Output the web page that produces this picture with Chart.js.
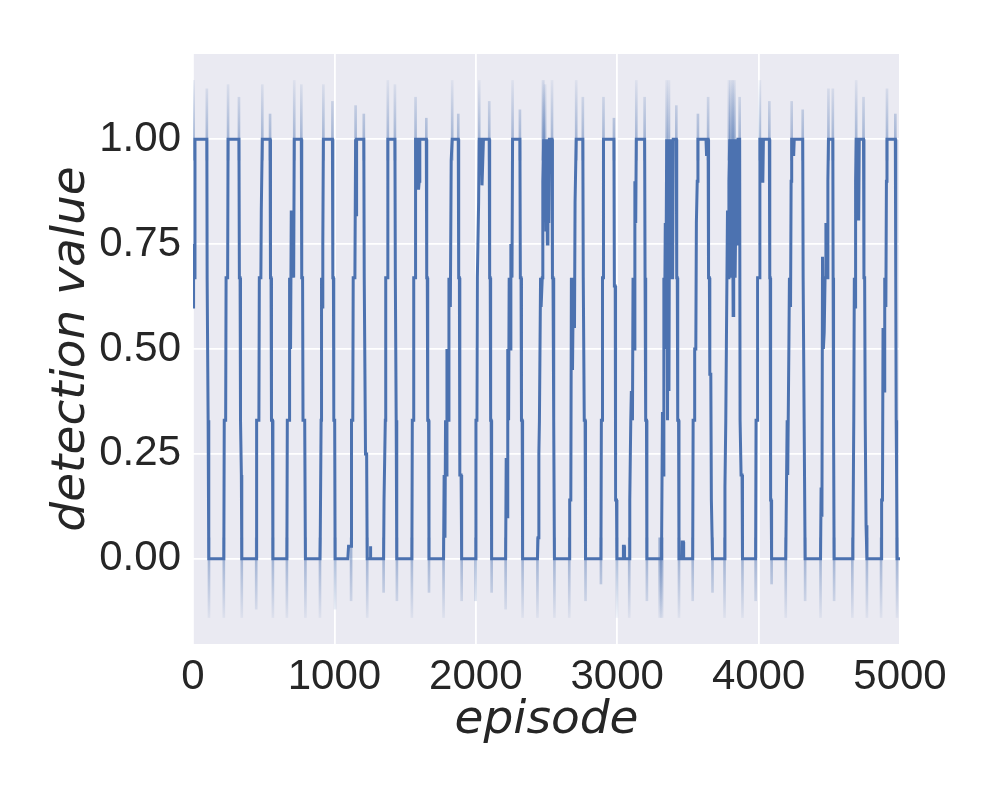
<!DOCTYPE html>
<html>
<head>
<meta charset="utf-8">
<script src="https://cdn.jsdelivr.net/npm/chart.js@4.4.0/dist/chart.umd.min.js"></script>
<style>
  html, body { margin: 0; padding: 0; background: #ffffff; }
</style>
</head>
<body>
<canvas id="grafiek" width="1000" height="800"></canvas>
<script>
// tick labels
const xTicks = [0, 1000, 2000, 3000, 4000, 5000];
const yTicks = [0, 0.25, 0.5, 0.75, 1];

// mean detection value per episode (one row per on/off cycle)
const episodes = [
  0, 4, 8, 14, 98, 100, 104, 107, 110, 113,
  218, 221, 231, 234, 245, 248, 325, 328, 333, 336, 342, 345,
  447, 450, 466, 469, 480, 483, 490, 545, 548, 552, 555, 562, 565,
  664, 667, 680, 683, 690, 695, 700, 703, 712, 716, 766, 769, 775, 778, 790, 795,
  898, 900, 906, 909, 915, 918, 922, 986, 989, 993, 996, 1002, 1005,
  1095, 1100, 1118, 1121, 1130, 1133, 1145, 1150, 1153, 1157, 1208, 1211, 1216, 1220, 1228, 1232, 1252, 1254, 1258,
  1348, 1351, 1360, 1363, 1375, 1378, 1428, 1431, 1434, 1437, 1440, 1442,
  1548, 1551, 1558, 1561, 1571, 1574, 1590, 1595, 1600, 1604, 1650, 1653, 1657, 1660, 1666, 1669,
  1772, 1776, 1782, 1786, 1792, 1796, 1805, 1810, 1820, 1826, 1833, 1876, 1879, 1884, 1887, 1896, 1900,
  1998, 2001, 2008, 2011, 2020, 2024, 2040, 2044, 2050, 2054, 2095, 2098, 2102, 2105, 2109, 2112,
  2211, 2215, 2222, 2226, 2232, 2236, 2244, 2248, 2256, 2260, 2312, 2315, 2320, 2323, 2328, 2331,
  2436, 2440, 2446, 2450, 2458, 2462, 2470, 2474, 2480, 2486, 2490, 2496, 2500, 2506, 2510, 2516, 2520, 2539, 2542, 2546, 2549, 2553, 2556,
  2661, 2664, 2672, 2676, 2684, 2690, 2698, 2702, 2710, 2757, 2760, 2764, 2767, 2773, 2776,
  2885, 2888, 2893, 2896, 2900, 2903, 2977, 2980, 2986, 2989, 2995, 2998, 3042, 3044, 3050, 3052,
  3085, 3089, 3096, 3100, 3108, 3112, 3120, 3125, 3131, 3135, 3194, 3197, 3200, 3203, 3207, 3210,
  3310, 3314, 3320, 3324, 3330, 3334, 3340, 3345, 3350, 3356, 3360, 3366, 3370, 3378, 3382, 3392, 3396, 3418, 3421, 3425, 3428, 3434, 3437, 3458, 3460, 3468, 3470,
  3534, 3537, 3545, 3548, 3556, 3560, 3566, 3571, 3628, 3632, 3636, 3643, 3646, 3652, 3655, 3662, 3666, 3674,
  3759, 3762, 3768, 3772, 3780, 3784, 3790, 3796, 3800, 3804, 3810, 3814, 3820, 3824, 3830, 3834, 3840, 3844, 3850, 3854, 3860, 3866, 3869, 3873, 3876, 3883, 3886,
  3979, 3982, 3990, 3993, 4004, 4009, 4018, 4022, 4030, 4034, 4076, 4079, 4082, 4085, 4089, 4092,
  4192, 4195, 4202, 4206, 4214, 4218, 4226, 4230, 4234, 4245, 4248, 4252, 4312, 4315, 4319, 4322, 4326, 4329,
  4438, 4442, 4448, 4452, 4458, 4464, 4470, 4476, 4484, 4490, 4494, 4525, 4527, 4529, 4531, 4534,
  4663, 4667, 4673, 4677, 4682, 4686, 4690, 4698, 4702, 4708, 4712, 4742, 4745, 4750, 4754, 4760, 4766,
  4866, 4870, 4876, 4880, 4888, 4892, 4900, 4904, 4908, 4967, 4970, 4973, 4976, 4979, 5000
];
const detection = [
  0.6, 0.75, 0.67, 1, 1, 0.67, 0.67, 0.33, 0.33, 0,
  0, 0.33, 0.33, 0.67, 0.67, 1, 1, 0.67, 0.67, 0.33, 0.2, 0,
  0, 0.33, 0.33, 0.67, 0.67, 0.83, 1, 1, 0.67, 0.67, 0.33, 0.33, 0,
  0, 0.33, 0.33, 0.67, 0.5, 0.83, 0.67, 0.75, 0.67, 1, 1, 0.67, 0.67, 0.33, 0.33, 0,
  0, 0.05, 0.33, 0.67, 0.6, 0.75, 1, 1, 0.67, 0.67, 0.33, 0.33, 0,
  0, 0.03, 0.03, 0.33, 0.33, 0.67, 0.67, 1, 0.82, 1, 1, 0.67, 0.67, 0.25, 0.25, 0, 0, 0.03, 0,
  0, 0.14, 0.33, 0.67, 0.67, 1, 1, 0.67, 0.67, 0.33, 0.33, 0,
  0, 0.33, 0.33, 0.67, 0.67, 1, 1, 0.88, 0.9, 1, 1, 0.67, 0.67, 0.33, 0.33, 0,
  0, 0.2, 0.05, 0.33, 0.2, 0.5, 0.33, 0.67, 0.6, 0.95, 1, 1, 0.67, 0.67, 0.2, 0.2, 0,
  0, 0.33, 0.33, 0.67, 0.85, 1, 1, 0.89, 0.89, 1, 1, 0.67, 0.67, 0.33, 0.33, 0,
  0, 0.24, 0.1, 0.5, 0.33, 0.67, 0.5, 0.75, 0.67, 1, 1, 0.67, 0.67, 0.33, 0.33, 0,
  0, 0.05, 0.25, 0.33, 0.67, 0.6, 0.67, 0.9, 1, 0.89, 1, 0.78, 1, 0.75, 0.95, 0.8, 1, 1, 0.67, 0.67, 0.33, 0.33, 0,
  0, 0.14, 0.14, 0.67, 0.45, 0.67, 0.55, 0.85, 1, 1, 0.67, 0.67, 0.33, 0.33, 0,
  0, 0.33, 0.33, 0.67, 0.67, 1, 1, 0.65, 0.65, 0.14, 0.14, 0, 0, 0.03, 0.03, 0,
  0, 0.14, 0.33, 0.4, 0.33, 0.67, 0.5, 0.9, 0.8, 1, 1, 0.67, 0.67, 0.33, 0.33, 0,
  0, 0.03, 0.35, 0.2, 0.67, 0.5, 0.8, 0.67, 1, 0.33, 1, 0.4, 0.9, 1, 0.67, 0.67, 1, 1, 0.67, 0.67, 0.33, 0.33, 0, 0, 0.04, 0.04, 0,
  0, 0.33, 0.33, 0.5, 0.5, 0.8, 0.9, 1, 1, 0.96, 1, 1, 0.67, 0.67, 0.44, 0.44, 0.14, 0,
  0, 0.17, 0.33, 0.5, 0.83, 0.67, 0.9, 1, 0.75, 1, 0.67, 1, 0.58, 0.9, 1, 0.67, 0.67, 1, 0.75, 1, 1, 1, 0.33, 0.33, 0.2, 0.2, 0,
  0, 0.33, 0.33, 0.67, 0.67, 1, 1, 0.9, 0.9, 1, 1, 0.67, 0.67, 0.14, 0.14, 0,
  0, 0.1, 0.33, 0.2, 0.5, 0.67, 0.6, 0.9, 1, 1, 0.96, 1, 1, 0.67, 0.67, 0.33, 0.33, 0,
  0, 0.17, 0.1, 0.72, 0.5, 0.54, 0.67, 0.8, 0.67, 0.9, 1, 1, 0.67, 0.5, 0.33, 0,
  0, 0.03, 0.33, 0.67, 0.6, 0.9, 1, 1, 0.81, 0.81, 1, 1, 0.67, 0.67, 0.33, 0.08, 0,
  0, 0.14, 0.14, 0.55, 0.4, 0.67, 0.6, 0.9, 1, 1, 0.67, 0.33, 0.2, 0, 0
];

// confidence band peaks above 1 (around switch-on / switch-off)
const topSpikeEpisodes = [4, 98, 248, 325, 490, 545, 716, 766, 922, 986, 1150, 1208, 1378, 1428, 1574, 1650,
  1833, 1876, 2024, 2095, 2260, 2312, 2474, 2480, 2490, 2539, 2710, 2757, 2903, 2977, 3135, 3194, 3350, 3366,
  3418, 3571, 3643, 3790, 3800, 3812, 3820, 3830, 3866, 4009, 4076, 4234, 4312, 4494, 4525, 4690, 4742, 4908, 4967];
const topSpikeValues = [1.14, 1.12, 1.13, 1.1, 1.13, 1.06, 1.14, 1.13, 1.13, 1.09, 1.08, 1.06, 1.14, 1.13, 1.1, 1.05,
  1.14, 1.06, 1.14, 1.09, 1.14, 1.07, 1.14, 1.14, 1.13, 1.14, 1.14, 1.1, 1.1, 1.05, 1.14, 1.1, 1.14, 1.14,
  1.08, 1.06, 1.1, 1.14, 1.14, 1.14, 1.14, 1.14, 1.1, 1.14, 1.09, 1.09, 1.07, 1.12, 1.12, 1.14, 1.1, 1.12, 1.06];
// confidence band dips below 0
const bottomSpikeEpisodes = [113, 218, 345, 447, 565, 664, 795, 898, 1005, 1118, 1232, 1348, 1442, 1548, 1669,
  1772, 1900, 1998, 2112, 2211, 2331, 2436, 2556, 2661, 2776, 2885, 2998, 3085, 3210, 3300, 3310, 3318, 3437,
  3534, 3674, 3759, 3886, 3979, 4092, 4192, 4329, 4438, 4534, 4663, 4766, 4866, 4979];
const bottomSpikeValues = [-0.14, -0.14, -0.14, -0.12, -0.14, -0.14, -0.14, -0.14, -0.12, -0.1, -0.14, -0.08, -0.1, -0.14, -0.08,
  -0.14, -0.1, -0.1, -0.08, -0.12, -0.14, -0.14, -0.14, -0.14, -0.1, -0.06, -0.14, -0.14, -0.1, -0.14, -0.14, -0.14, -0.14,
  -0.1, -0.08, -0.14, -0.14, -0.1, -0.06, -0.14, -0.1, -0.14, -0.1, -0.14, -0.14, -0.14, -0.14];

const lineColor = '#4C72B0';
const textColor = '#262626';

// grijsblauwe achtergrond van het plotvlak (seaborn darkgrid)
const plotBackground = {
  id: 'plotBackground',
  beforeDraw(chart) {
    const { ctx, chartArea: a } = chart;
    ctx.save();
    ctx.fillStyle = '#ffffff';
    ctx.fillRect(0, 0, chart.width, chart.height);
    ctx.fillStyle = '#EAEAF2';
    ctx.fillRect(a.left, a.top, a.right - a.left, a.bottom - a.top);
    ctx.restore();
  }
};

// fading spike colour, strongest next to the line
function spikeFill(from, to) {
  return function(c) {
    const chart = c.chart;
    if (!chart.chartArea) return 'rgba(76,114,176,0.25)';
    const y = chart.scales.y;
    const g = chart.ctx.createLinearGradient(0, y.getPixelForValue(from), 0, y.getPixelForValue(to));
    g.addColorStop(0, 'rgba(76,114,176,0.45)');
    g.addColorStop(1, 'rgba(76,114,176,0.08)');
    return g;
  };
}

const tickFont = { family: 'Liberation Sans', size: 42 };
const titleFont = { family: 'DejaVu Sans', style: 'italic', size: 47, lineHeight: 1 };

new Chart(document.getElementById('grafiek').getContext('2d'), {
  type: 'line',
  data: {
    datasets: [
      {
        label: 'detection value',
        data: episodes.map((e, i) => ({ x: e, y: detection[i] })),
        borderColor: lineColor,
        borderWidth: 3,
        pointRadius: 0,
        tension: 0,
        fill: false,
        order: 0
      },
      {
        type: 'bar',
        data: topSpikeEpisodes.map((e, i) => ({ x: e, y: [0.95, topSpikeValues[i]] })),
        backgroundColor: spikeFill(1, 1.14),
        barThickness: 2,
        grouped: false,
        order: 1
      },
      {
        type: 'bar',
        data: bottomSpikeEpisodes.map((e, i) => ({ x: e, y: [bottomSpikeValues[i], 0.05] })),
        backgroundColor: spikeFill(0, -0.14),
        barThickness: 2,
        grouped: false,
        order: 1
      }
    ]
  },
  options: {
    responsive: false,
    animation: false,
    devicePixelRatio: 1,
    layout: { padding: { left: 0, right: 100, top: 54, bottom: 0 } },
    plugins: { legend: { display: false }, tooltip: { enabled: false } },
    scales: {
      x: {
        type: 'linear',
        min: 0,
        max: 5000,
        offset: false,
        afterBuildTicks: ax => { ax.ticks = xTicks.map(v => ({ value: v })); },
        afterFit: ax => { ax.height = 156; },
        grid: { color: '#ffffff', lineWidth: 1.8, drawTicks: false, offset: false },
        border: { display: false },
        ticks: { autoSkip: false, maxRotation: 0, padding: 8, color: textColor, font: tickFont, callback: v => String(v) },
        title: { display: true, text: 'episode', color: textColor, font: titleFont, padding: { top: 0, bottom: 56 } }
      },
      y: {
        min: -0.203,
        max: 1.203,
        afterBuildTicks: ax => { ax.ticks = yTicks.map(v => ({ value: v })); },
        afterFit: ax => { ax.width = 193; },
        grid: { color: '#ffffff', lineWidth: 1.8, drawTicks: false },
        border: { display: false },
        ticks: { padding: 12, color: textColor, font: tickFont, callback: v => v.toFixed(2) },
        title: { display: true, text: 'detection value', color: textColor, font: titleFont, padding: { top: 48, bottom: 0 } }
      }
    }
  },
  plugins: [plotBackground]
});
</script>
</body>
</html>
